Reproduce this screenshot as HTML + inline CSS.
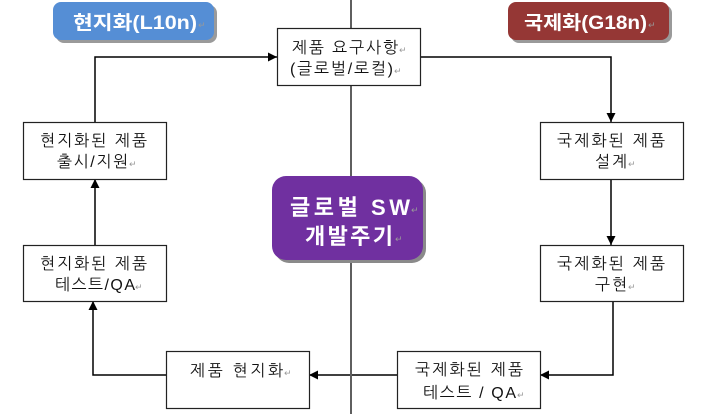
<!DOCTYPE html>
<html><head><meta charset="utf-8"><style>
html,body{margin:0;padding:0;background:#fff;}
svg{display:block;}
.t{font-family:"Liberation Sans","NanumGothic","Noto Sans CJK KR",sans-serif;font-size:16px;fill:#111;}
.r{font-family:"DejaVu Sans",sans-serif;font-size:9px;fill:#999;}
.b{font-family:"Liberation Sans","Noto Sans CJK KR",sans-serif;font-weight:bold;fill:#fff;}
</style></head><body>
<svg width="709" height="414" viewBox="0 0 709 414" xmlns="http://www.w3.org/2000/svg">
<defs>
<marker id="a" markerWidth="10" markerHeight="10" refX="9" refY="5" orient="auto" markerUnits="userSpaceOnUse">
<path d="M0,0.5 L9,5 L0,9.5 Z" fill="#000"/>
</marker>
</defs>
<!-- center line -->
<line x1="351" y1="0" x2="351" y2="414" stroke="#5f5f5f" stroke-width="2"/>

<!-- pills -->
<rect x="56" y="5" width="161" height="38" rx="8" fill="#9a9a9a"/>
<rect x="53" y="2" width="161" height="38" rx="8" fill="#558ed5"/>
<text class="b" x="73" y="29" font-size="19" textLength="124" lengthAdjust="spacingAndGlyphs">현지화(L10n)</text>
<text class="r" x="198" y="28">↵</text>

<rect x="511" y="5" width="161" height="38" rx="8" fill="#9a9a9a"/>
<rect x="508" y="2" width="161" height="38" rx="8" fill="#953735"/>
<text class="b" x="524" y="29" font-size="19" textLength="123" lengthAdjust="spacingAndGlyphs">국제화(G18n)</text>
<text class="r" x="648" y="28">↵</text>

<!-- connectors -->
<g fill="none" stroke="#000" stroke-width="1.5">
<polyline points="95,122 95,57 277,57" marker-end="url(#a)"/>
<polyline points="421,57 611,57 611,122" marker-end="url(#a)"/>
<line x1="611" y1="179" x2="611" y2="245" marker-end="url(#a)"/>
<polyline points="613,301 613,375 540,375" marker-end="url(#a)"/>
<line x1="397" y1="375" x2="309" y2="375" marker-end="url(#a)"/>
<polyline points="166,375 93,375 93,301" marker-end="url(#a)"/>
<line x1="95" y1="245" x2="95" y2="179" marker-end="url(#a)"/>
</g>
<line x1="351" y1="340" x2="351" y2="414" stroke="#5f5f5f" stroke-width="2"/>

<!-- boxes -->
<g fill="#fff" stroke="#222" stroke-width="1.2">
<rect x="277.5" y="28.5" width="143" height="57"/>
<rect x="23.5" y="122.5" width="143" height="57"/>
<rect x="23.5" y="245.5" width="143" height="56"/>
<rect x="166.5" y="351.5" width="143" height="57"/>
<rect x="540.5" y="122.5" width="143" height="57"/>
<rect x="540.5" y="245.5" width="143" height="56"/>
<rect x="397.5" y="351.5" width="143" height="57"/>
</g>

<!-- box texts -->
<text class="t" x="292" y="53" textLength="106" lengthAdjust="spacing">제품 요구사항</text><text class="r" x="399" y="53">↵</text>
<text class="t" x="290" y="74" textLength="103" lengthAdjust="spacing">(글로벌/로컬)</text><text class="r" x="394" y="74">↵</text>

<text class="t" x="40" y="146" textLength="107" lengthAdjust="spacing">현지화된 제품</text>
<text class="t" x="57" y="167" textLength="71" lengthAdjust="spacing">출시/지원</text><text class="r" x="129" y="167">↵</text>

<text class="t" x="40" y="269" textLength="107" lengthAdjust="spacing">현지화된 제품</text>
<text class="t" x="55" y="290" textLength="80" lengthAdjust="spacing">테스트/QA</text><text class="r" x="135" y="290">↵</text>

<text class="t" x="190" y="376" textLength="93" lengthAdjust="spacing">제품 현지화</text><text class="r" x="284" y="376">↵</text>

<text class="t" x="557" y="146" textLength="108" lengthAdjust="spacing">국제화된 제품</text>
<text class="t" x="595" y="167" textLength="32" lengthAdjust="spacing">설계</text><text class="r" x="628" y="167">↵</text>

<text class="t" x="557" y="269" textLength="108" lengthAdjust="spacing">국제화된 제품</text>
<text class="t" x="595" y="290" textLength="32" lengthAdjust="spacing">구현</text><text class="r" x="628" y="290">↵</text>

<text class="t" x="415" y="375" textLength="108" lengthAdjust="spacing">국제화된 제품</text>
<text class="t" x="423" y="398" textLength="93" lengthAdjust="spacing">테스트 / QA</text><text class="r" x="517" y="398">↵</text>

<!-- center purple -->
<rect x="275" y="179" width="151" height="84" rx="14" fill="#8a8a8a"/>
<rect x="272" y="176" width="151" height="84" rx="14" fill="#7030a0"/>
<text class="b" x="290" y="215" font-size="22" textLength="120" lengthAdjust="spacing">글로벌 SW</text><text class="r" x="411" y="213" fill="#ccc">↵</text>
<text class="b" x="305" y="244" font-size="22" textLength="88" lengthAdjust="spacing">개발주기</text><text class="r" x="395" y="242" fill="#ccc">↵</text>
</svg>
</body></html>
